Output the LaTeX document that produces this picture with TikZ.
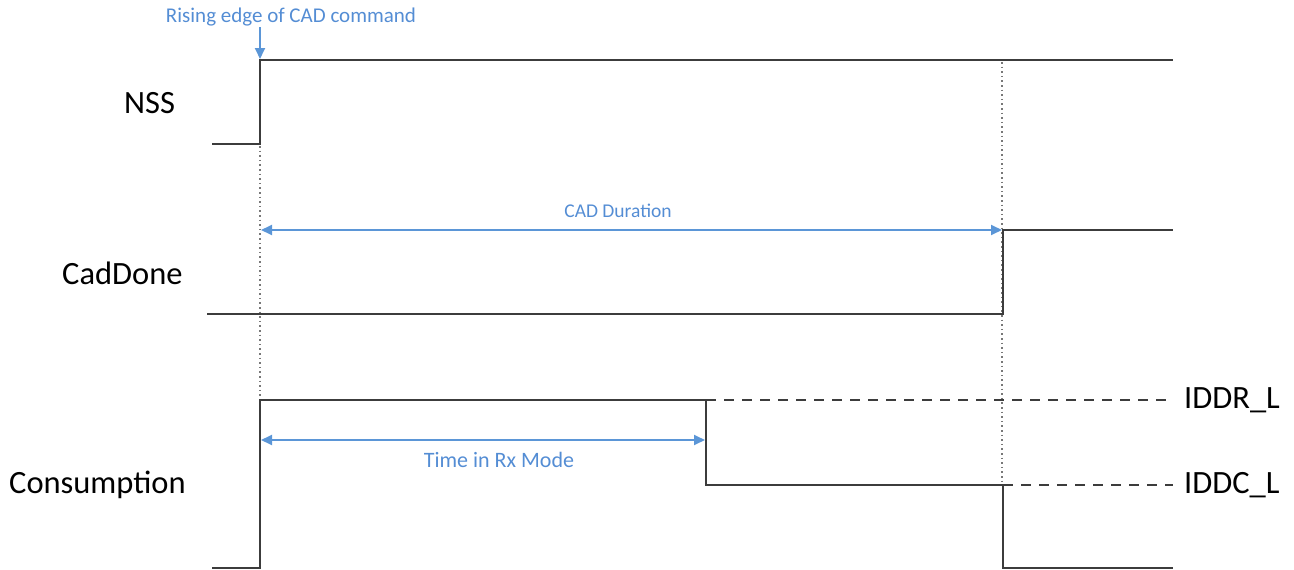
\documentclass[tikz,border=0pt]{standalone}
\usepackage{fontspec}
\setmainfont{Carlito}
\usetikzlibrary{arrows.meta}
\definecolor{sig}{RGB}{60,60,60}
\definecolor{annot}{RGB}{84,141,212}
\definecolor{annotline}{RGB}{91,150,215}
\definecolor{guide}{RGB}{120,120,120}
\begin{document}
\begin{tikzpicture}[x=1pt,y=-1pt,
  signal/.style={draw=sig,line width=2.5pt,line join=miter},
  level/.style={draw=sig,line width=2.5pt,dash pattern=on 10pt off 8pt},
  guideline/.style={draw=guide,line width=1.4pt,dash pattern=on 1.6pt off 3pt},
  span/.style={draw=annotline,line width=1.8pt,{Triangle[length=11pt,width=10pt]}-{Triangle[length=11pt,width=10pt]}},
  pointer/.style={draw=annotline,line width=1.8pt,-{Triangle[length=11pt,width=10pt]}},
  siglabel/.style={font=\fontsize{32.5}{38}\selectfont,text=black,inner sep=0pt,anchor=base west},
  annotlabel/.style={text=annot,inner sep=0pt,anchor=base}
]
\useasboundingbox (0,0) rectangle (1294,570);
% coordinates
\coordinate (n0) at (212,144);
\coordinate (n1) at (260,144);
\coordinate (n2) at (260,60);
\coordinate (n3) at (1173,60);
\coordinate (c0) at (207,314);
\coordinate (c1) at (1003,314);
\coordinate (c2) at (1003,230);
\coordinate (c3) at (1173,230);
\coordinate (p0) at (212,568);
\coordinate (p1) at (260,568);
\coordinate (p2) at (260,400);
\coordinate (p3) at (706,400);
\coordinate (p4) at (706,485);
\coordinate (p5) at (1003,485);
\coordinate (p6) at (1003,568);
\coordinate (p7) at (1173,568);
\coordinate (r1) at (1173,400);
\coordinate (r2) at (1173,485);
\coordinate (g1a) at (260,146);
\coordinate (g1b) at (260,398);
\coordinate (g2a) at (1002,62);
\coordinate (g2b) at (1002,483);
\coordinate (m0) at (260,27);
\coordinate (m1) at (260,59);
\coordinate (s0) at (261,230);
\coordinate (s1) at (1002,230);
\coordinate (t0) at (261,440);
\coordinate (t1) at (705,440);
% guides
\draw[guideline] (g1a) -- (g1b);
\draw[guideline] (g2a) -- (g2b);
% signals
\draw[signal] (n0) -- (n1) -- (n2) -- (n3);
\draw[signal] (c0) -- (c1) -- (c2) -- (c3);
\draw[signal] (p0) -- (p1) -- (p2) -- (p3) -- (p4) -- (p5) -- (p6) -- (p7);
\draw[level] (p3) -- (r1);
\draw[level] (p5) -- (r2);
% annotations
\draw[pointer] (m0) -- (m1);
\draw[span] (s0) -- (s1);
\draw[span] (t0) -- (t1);
\node[annotlabel,font=\fontsize{21}{25}\selectfont] (lrise) at (291,23) {Rising edge of CAD command};
\node[annotlabel,font=\fontsize{19.5}{24}\selectfont] (lcad) at (618,217) {CAD Duration};
\node[annotlabel,font=\fontsize{22}{26}\selectfont] (lrx) at (499,467) {Time in Rx Mode};
% signal labels
\node[siglabel] (lnss) at (124,113) {NSS};
\node[siglabel] (lcd) at (62,284) {CadDone};
\node[siglabel] (lcons) at (9,493) {Consumption};
\node[siglabel] (liddr) at (1184,408) {IDDR\_L};
\node[siglabel] (liddc) at (1184,493) {IDDC\_L};
\end{tikzpicture}
\end{document}
